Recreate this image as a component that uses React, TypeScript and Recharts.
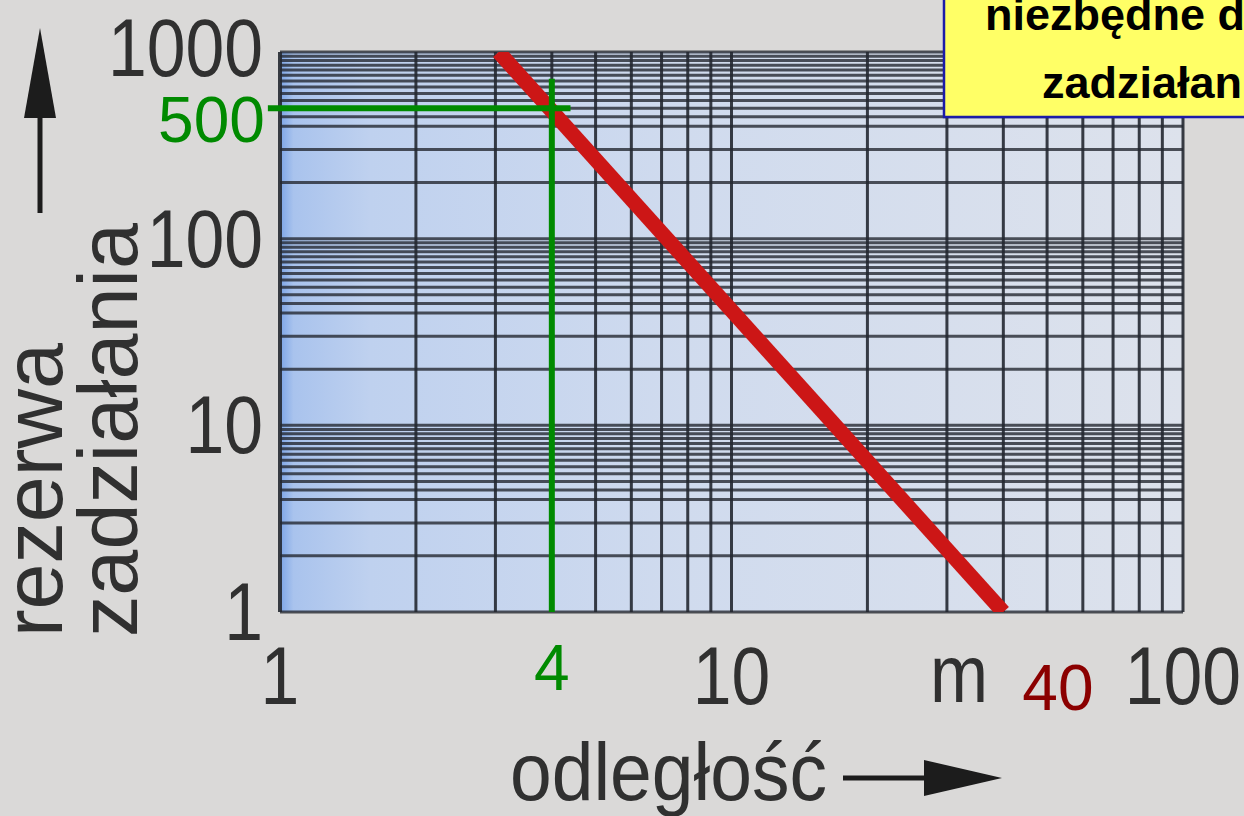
import React from 'react';
import { LineChart, Line, XAxis, YAxis, ReferenceLine, ReferenceArea, ReferenceDot } from 'recharts';

// odległość [m] -> rezerwa zadziałania (log-log)
const distance = [3.05, 40];
const reserve = [1000, 1];

const xTicks = [1, 10, 100];
const yTicks = [1, 10, 100, 1000];

const xGrid = [1, 2, 3, 4, 5, 6, 7, 8, 9, 10, 20, 30, 40, 50, 60, 70, 80, 90, 100];
const yDecades = [1, 10, 100];
const yMantissa = [1, 2, 3, 4, 4.5, 5, 5.5, 6, 6.5, 7, 7.5, 8, 8.5, 9, 9.5];
const yGrid = [...yDecades.flatMap((d) => yMantissa.map((m) => m * d)), 1000];

// example read-off: 4 m -> 500
const markX = 4;
const markY = 500;
const markXEnd = 4.4;
const markXStart = 0.94;
const markYTop = 720;
const endX = 40;

const data = distance.map((d, i) => ({ d, r: reserve[i] }));

const FONT = '"Liberation Sans", Arial, sans-serif';
const INK = '#303030';
const GRID = '#242831';
const GREEN = '#008a00';

const YTick = (props: any) => {
  const { x, y, payload } = props;
  // top label sits a bit higher in the original scan
  const dy = payload.value === 1000 ? '0.29em' : '0.34em';
  return (
    <text
      transform={`translate(${x},${y}) scale(0.85,1)`}
      textAnchor="end"
      dy={dy}
      fontSize={82}
      fontFamily={FONT}
      fill={INK}
    >
      {payload.value}
    </text>
  );
};

const XTick = (props: any) => {
  const { x, y, payload } = props;
  return (
    <text
      transform={`translate(${x},${y}) scale(0.85,1)`}
      textAnchor="middle"
      dy="0.71em"
      fontSize={82}
      fontFamily={FONT}
      fill={INK}
    >
      {payload.value}
    </text>
  );
};

const dotLabel = (text: string, dx: number, dy: number, anchor: string, fill: string) => (p: any) => {
  const vb = p.viewBox || {};
  const cx = vb.x + (vb.width || 0) / 2;
  const cy = vb.y + (vb.height || 0) / 2;
  return (
    <text x={cx + dx} y={cy + dy} textAnchor={anchor} fontSize={64} fontFamily={FONT} fill={fill}>
      {text}
    </text>
  );
};

const App: React.FC = () => {
  return (
    <div
      style={{
        position: 'absolute',
        left: 0,
        top: 0,
        width: 1244,
        height: 816,
        overflow: 'hidden',
        background: '#dad9d8',
        fontFamily: FONT,
      }}
    >
      <LineChart width={1244} height={816} data={data} margin={{ top: 52, right: 61, bottom: 0, left: 0 }}>
        <defs>
          <linearGradient id="paper" x1="0" y1="0" x2="1" y2="0">
            <stop offset="0%" stopColor="#7ca4e6" />
            <stop offset="1.5%" stopColor="#a9c3ed" />
            <stop offset="10%" stopColor="#bfd1ef" />
            <stop offset="45%" stopColor="#d0dbee" />
            <stop offset="100%" stopColor="#dde2ec" />
          </linearGradient>
        </defs>
        <XAxis
          dataKey="d"
          type="number"
          scale="log"
          domain={[1, 100]}
          ticks={xTicks}
          tick={<XTick />}
          tickSize={0}
          tickMargin={34}
          axisLine={false}
          tickLine={false}
          height={204}
          allowDataOverflow
        />
        <YAxis
          type="number"
          scale="log"
          domain={[1, 1000]}
          ticks={yTicks}
          tick={<YTick />}
          tickSize={0}
          tickMargin={17}
          axisLine={false}
          tickLine={false}
          width={280}
          allowDataOverflow
        />
        <ReferenceArea x1={1} x2={100} y1={1} y2={1000} fill="url(#paper)" fillOpacity={1} stroke="none" zIndex={-200} />
        {yGrid.map((v) => (
          <ReferenceLine key={'h' + v} y={v} stroke={GRID} strokeOpacity={0.8} strokeWidth={3} zIndex={-100} />
        ))}
        {xGrid.map((v) => (
          <ReferenceLine
            key={'v' + v}
            x={v}
            stroke={GRID}
            strokeOpacity={0.9}
            strokeWidth={v === 1 ? 4 : 3}
            zIndex={-100}
          />
        ))}
        <Line
          dataKey="r"
          stroke="#cc1616"
          strokeWidth={15}
          strokeLinecap="butt"
          dot={false}
          activeDot={false}
          isAnimationActive={false}
          zIndex={400}
        />
        <ReferenceLine
          segment={[{ x: markXStart, y: markY }, { x: markXEnd, y: markY }]}
          stroke={GREEN}
          strokeWidth={6}
          ifOverflow="visible"
          zIndex={500}
        />
        <ReferenceLine
          segment={[{ x: markX, y: 1 }, { x: markX, y: markYTop }]}
          stroke={GREEN}
          strokeWidth={6}
          ifOverflow="visible"
          zIndex={500}
        />
        <ReferenceDot
          x={markXStart}
          y={markY}
          r={1}
          fill="none"
          stroke="none"
          ifOverflow="visible"
          zIndex={600}
          label={{ content: dotLabel(String(markY), -3, 34, 'end', GREEN) }}
        />
        <ReferenceDot
          x={markX}
          y={1}
          r={1}
          fill="none"
          stroke="none"
          ifOverflow="visible"
          zIndex={600}
          label={{ content: dotLabel(String(markX), 0, 78, 'middle', GREEN) }}
        />
        <ReferenceDot
          x={endX}
          y={1}
          r={1}
          fill="none"
          stroke="none"
          ifOverflow="visible"
          zIndex={600}
          label={{ content: dotLabel(String(endX), 19, 98, 'start', '#8b0000') }}
        />
      </LineChart>

      <svg width={1244} height={816} style={{ position: 'absolute', left: 0, top: 0, pointerEvents: 'none' }}>
        {/* y axis title + arrow */}
        <text
          transform="translate(62,637) rotate(-90)"
          fontSize={84}
          fontFamily={FONT}
          fill={INK}
          textLength={294}
          lengthAdjust="spacingAndGlyphs"
        >
          rezerwa
        </text>
        <text
          transform="translate(137,637) rotate(-90)"
          fontSize={84}
          fontFamily={FONT}
          fill={INK}
          textLength={414}
          lengthAdjust="spacingAndGlyphs"
        >
          zadziałania
        </text>
        <line x1={40} y1={213} x2={40} y2={110} stroke="#1c1c1c" strokeWidth={5} />
        <polygon points="40,28 24,118 56,118" fill="#1c1c1c" />

        {/* x axis title + arrow */}
        <text
          x={510}
          y={800}
          fontSize={82}
          fontFamily={FONT}
          fill={INK}
          textLength={317}
          lengthAdjust="spacingAndGlyphs"
        >
          odległość
        </text>
        <line x1={843} y1={778} x2={930} y2={778} stroke="#1c1c1c" strokeWidth={5} />
        <polygon points="924,760 924,796 1002,778" fill="#1c1c1c" />

        {/* unit */}
        <text transform="translate(930,702) scale(0.85,1)" fontSize={82} fontFamily={FONT} fill={INK}>
          m
        </text>

        {/* note box */}
        <rect x={944} y={-5} width={320} height={122} fill="#ffff66" stroke="#1c1ca8" strokeWidth={2.5} />
        <text x={985} y={30} fontSize={45} fontWeight="bold" fontFamily={FONT} fill="#000">
          niezbędne do
        </text>
        <text x={1042} y={98} fontSize={45} fontWeight="bold" fontFamily={FONT} fill="#000">
          zadziałania
        </text>
      </svg>
    </div>
  );
};

export default App;
